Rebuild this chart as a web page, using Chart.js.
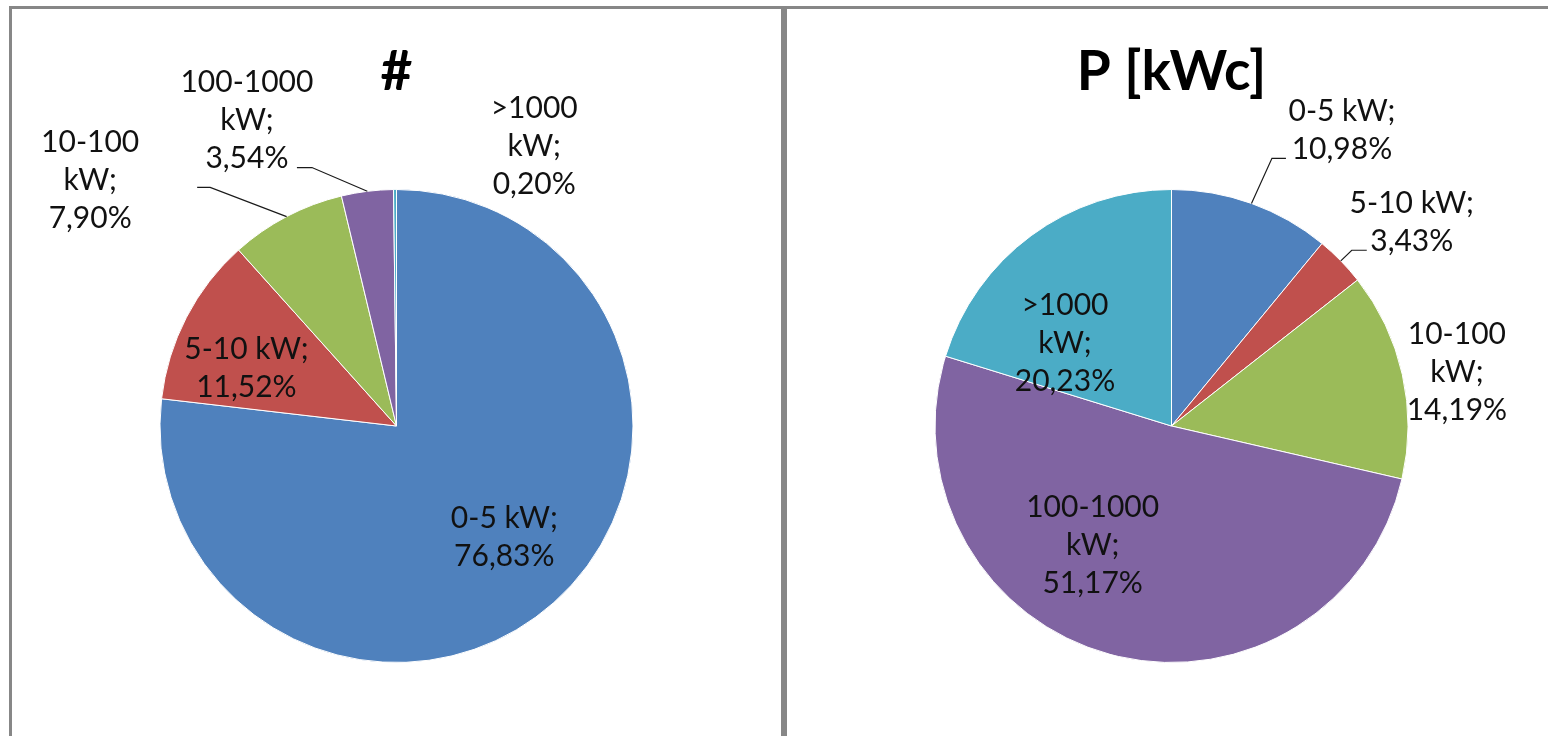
<!DOCTYPE html>
<html>
<head>
<meta charset="utf-8">
<script src="https://cdn.jsdelivr.net/npm/chart.js@4/dist/chart.umd.min.js"></script>
<style>
  html, body { margin: 0; padding: 0; background: #fff; overflow: hidden; }
  body { width: 1548px; height: 736px; position: relative; }
  .panel { position: absolute; top: 6px; width: 769px; height: 740px; border: 3px solid #878787; border-bottom: none; background: #fff; }
  #p1 { left: 9px; }
  #p2 { left: 784px; }
  canvas { display: block; }
</style>
</head>
<body>
<div class="panel" id="p1"><canvas id="c1" width="769" height="727"></canvas></div>
<div class="panel" id="p2"><canvas id="c2" width="769" height="727"></canvas></div>
<script>
// ---- data ----
const categories = ['0-5 kW', '5-10 kW', '10-100 kW', '100-1000 kW', '>1000 kW'];
const countShare = [76.83, 11.52, 7.90, 3.54, 0.20];   // "#"
const powerShare = [10.98, 3.43, 14.19, 51.17, 20.23]; // "P [kWc]"
const titles = ['#', 'P [kWc]'];

// ---- styles ----
const sliceColors = ['#4F81BD', '#C0504D', '#9BBB59', '#8064A2', '#4BACC6'];
const labelFont = '30px Lato, "Open Sans", sans-serif';
const titleFont = 'bold 55px Lato, "Open Sans", sans-serif';
const lineHeight = 38;

// label placement: angle nudge (deg) from slice mid-angle, radius factor, wrap mode, optional leader
const labelPlacement1 = [
  { dAng: -2.5, rf: 0.654, wrap: 2 },
  { dAng: -6.3, rf: 0.68, wrap: 2 },
  { dAng: -23.6, rf: 1.66, wrap: 3, leader: { elbow: [120, 7], end: [107, 7] } },
  { dAng: -19.0, rf: 1.438, wrap: 3, leader: { elbow: [65, 47], end: [50, 47] } },
  { dAng: 26.6, rf: 1.317, wrap: 3 }
];
const labelPlacement2 = [
  { dAng: 10.2, rf: 1.443, wrap: 2, leader: { elbow: [-70, 28], end: [-56, 28] } },
  { dAng: 4.0, rf: 1.332, wrap: 2, leader: { elbow: [-60, 28], end: [-45, 28] } },
  { dAng: 1.9, rf: 1.228, wrap: 3 },
  { dAng: 18.5, rf: 0.603, wrap: 3 },
  { dAng: -15.8, rf: 0.57, wrap: 3 }
];

function fmt(v) { return v.toFixed(2).replace('.', ',') + '%'; }
function labelLines(cat, v, wrap) {
  if (wrap === 2) return [cat + ';', fmt(v)];
  const parts = cat.split(' ');
  return [parts[0], parts.slice(1).join(' ') + ';', fmt(v)];
}

const labelPlugin = {
  id: 'excelLabels',
  afterDatasetsDraw(chart, args, opts) {
    const ctx = chart.ctx;
    const meta = chart.getDatasetMeta(0);
    const data = chart.data.datasets[0].data;
    ctx.save();
    // title
    const ca = chart.chartArea;
    const cx0 = (ca.left + ca.right) / 2;
    ctx.fillStyle = '#000';
    ctx.font = titleFont;
    ctx.textAlign = 'center';
    ctx.textBaseline = 'middle';
    ctx.fillText(opts.title, cx0, opts.titleY);
    // labels
    ctx.font = labelFont;
    meta.data.forEach((arc, i) => {
      const p = arc.getProps(['x', 'y', 'startAngle', 'endAngle', 'outerRadius'], true);
      const mid = (p.startAngle + p.endAngle) / 2;
      const pl = opts.placement[i];
      const a = mid + pl.dAng * Math.PI / 180;
      const r = p.outerRadius * pl.rf;
      const lx = p.x + Math.cos(a) * r;
      const ly = p.y + Math.sin(a) * r;
      if (pl.leader) {
        const sx = p.x + Math.cos(mid) * p.outerRadius;
        const sy = p.y + Math.sin(mid) * p.outerRadius;
        ctx.beginPath();
        ctx.strokeStyle = '#1a1a1a';
        ctx.lineWidth = 1.2;
        ctx.moveTo(sx, sy);
        ctx.lineTo(lx + pl.leader.elbow[0], ly + pl.leader.elbow[1]);
        ctx.lineTo(lx + pl.leader.end[0], ly + pl.leader.end[1]);
        ctx.stroke();
      }
      const lines = labelLines(chart.data.labels[i], data[i], pl.wrap);
      ctx.fillStyle = '#111';
      const top = ly - (lines.length - 1) * lineHeight / 2;
      lines.forEach((t, k) => ctx.fillText(t, lx, top + k * lineHeight));
    });
    ctx.restore();
  }
};

function makePie(id, values, title, placement) {
  return new Chart(document.getElementById(id), {
    type: 'pie',
    data: {
      labels: categories,
      datasets: [{
        data: values,
        backgroundColor: sliceColors,
        borderColor: '#ffffff',
        borderWidth: 1
      }]
    },
    options: {
      responsive: false,
      animation: false,
      layout: { padding: { left: 147.5, right: 147.5, top: 180, bottom: 73 } },
      plugins: {
        legend: { display: false },
        tooltip: { enabled: false },
        title: { display: false },
        excelLabels: { title: title, titleY: 63, placement: placement }
      }
    },
    plugins: [labelPlugin]
  });
}

makePie('c1', countShare, titles[0], labelPlacement1);
makePie('c2', powerShare, titles[1], labelPlacement2);
</script>
</body>
</html>
